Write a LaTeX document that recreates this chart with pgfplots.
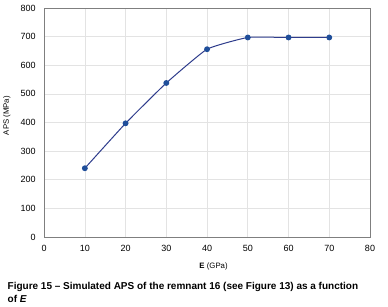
\documentclass[border=0pt]{standalone}
\usepackage{pgfplots}
\pgfplotsset{compat=1.18}
\usepackage{fontspec}
\setmainfont{Liberation Sans}
\definecolor{lineblue}{HTML}{2E3C8C}
\definecolor{markblue}{HTML}{1F4E9A}
\definecolor{gridgray}{HTML}{E3E3E3}
\definecolor{framegray}{HTML}{7F7F7F}
\begin{document}
\begin{tikzpicture}[x=1pt,y=1pt]
\path[fill=white] (0,0) rectangle (388,-307);
\begin{axis}[
  at={(44pt,-237pt)}, anchor=south west,
  scale only axis, width=326pt, height=229pt,
  xmin=0, xmax=80, ymin=0, ymax=800,
  xtick={0,10,...,80}, ytick={0,100,...,800},
  grid=major, major grid style={gridgray, line width=0.6pt},
  axis line style={framegray, line width=0.8pt},
  tick style={draw=none},
  ticklabel style={font=\fontsize{9}{10}\selectfont, text=black},
  /pgf/number format/assume math mode=true,
  xlabel={\textbf{E} (GPa)},
  ylabel={APS (MPa)},
  label style={font=\fontsize{7.8}{9}\selectfont},
  xlabel style={at={(axis description cs:0.52,0)}, anchor=north, yshift=-22pt},
  ylabel style={at={(axis description cs:0,0.53)}, anchor=south, yshift=30pt},
  xticklabel style={yshift=-5pt},
  yticklabel style={xshift=-5pt},
  clip=false,
]
\addplot[lineblue, line width=1pt, smooth, tension=0.25, mark=*, mark size=2.4pt,
  mark options={fill=markblue, draw=markblue}]
  coordinates {(10,240) (20,397) (30,538) (40,656) (50,697) (60,697) (70,697)};
\end{axis}
\node[anchor=west, align=left, font=\fontsize{10}{13}\selectfont\bfseries] at (4,-293)
  {Figure 15 -- Simulated APS of the remnant 16 (see Figure 13) as a function\\ of \textit{E}};
\end{tikzpicture}
\end{document}
